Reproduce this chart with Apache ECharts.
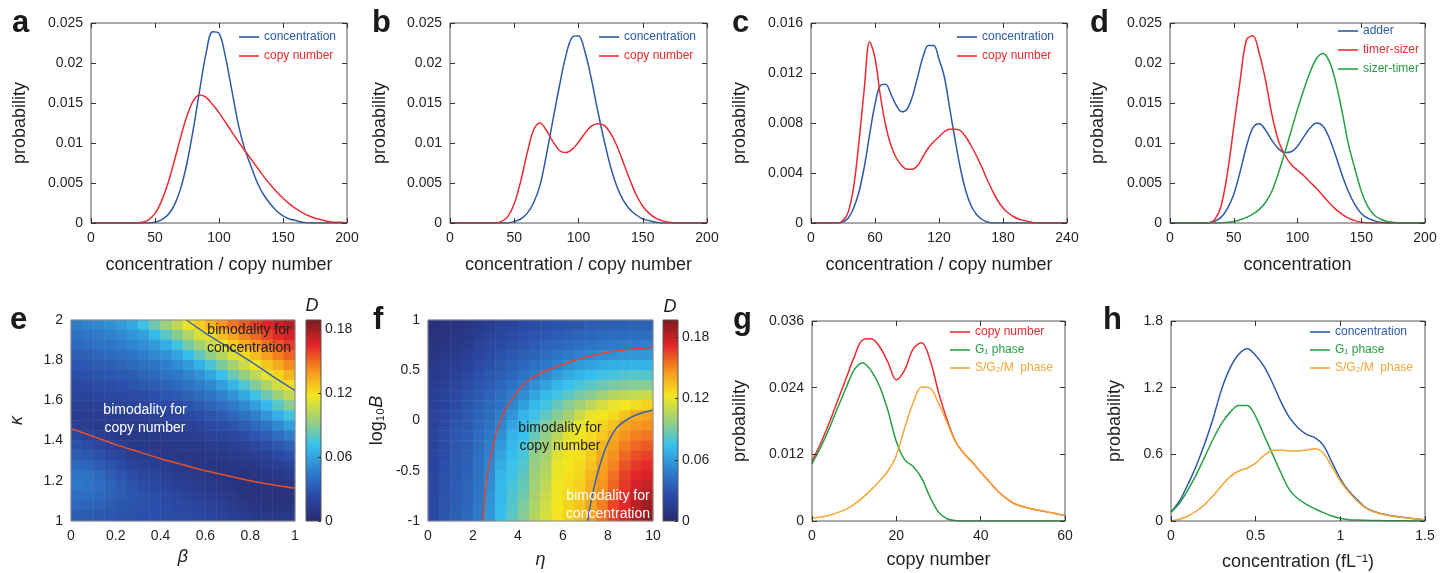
<!DOCTYPE html>
<html><head><meta charset="utf-8">
<script src="https://cdn.jsdelivr.net/npm/echarts@6/dist/echarts.min.js"></script>
<style>html,body{margin:0;padding:0;background:#fff}#c{width:1451px;height:573px}</style>
</head><body><div id="c"></div>
<script>
// ---------------- data ----------------
const x200 = [0,5,10,15,20,25,30,35,40,45,50,55,60,65,70,75,80,85,90,95,100,105,110,115,120,125,130,135,140,145,150,155,160,165,170,175,180,185,190,195,200];
const x240 = [0,5,10,15,20,25,30,35,40,45,50,55,60,65,70,75,80,85,90,95,100,105,110,115,120,125,130,135,140,145,150,155,160,165,170,175,180,185,190,195,200,205,210,215,220,225,230,235,240];
const gX = [0,2,4,6,8,10,12,14,16,18,20,22,24,26,28,30,32,34,36,38,40,42,44,46,48,50,52,54,56,58,60];
const hX = [0,0.05,0.1,0.15,0.2,0.25,0.3,0.35,0.4,0.45,0.5,0.55,0.6,0.65,0.7,0.75,0.8,0.85,0.9,0.95,1,1.05,1.1,1.15,1.2,1.25,1.3,1.35,1.4,1.45,1.5];

const aConc = [0,0,0,0,0,0,0,0,0,0,0.0001,0.0004,0.001,0.0022,0.0043,0.0075,0.0118,0.0167,0.0213,0.0239,0.0237,0.0208,0.0166,0.0124,0.0093,0.0071,0.005,0.0035,0.0024,0.0015,0.0009,0.0005,0.0003,0.0001,0,0,0,0,0,0,0];
const aCopy = [0,0,0,0,0,0,0,0,0.0001,0.0004,0.0012,0.0027,0.0049,0.0077,0.0107,0.0134,0.0153,0.016,0.0157,0.0148,0.0138,0.0126,0.0114,0.0102,0.0091,0.008,0.0069,0.0058,0.0048,0.0039,0.0031,0.0024,0.0018,0.0013,0.0009,0.0006,0.0004,0.0002,0.0001,0.0001,0];
const bConc = [0,0,0,0,0,0,0,0,0,0,0.0002,0.0005,0.0012,0.0025,0.0047,0.0085,0.0128,0.017,0.0208,0.0232,0.0234,0.0214,0.018,0.014,0.0103,0.007,0.0045,0.0028,0.0017,0.001,0.0005,0.0003,0.0001,0,0,0,0,0,0,0,0];
const bCopy = [0,0,0,0,0,0,0,0,0.0002,0.0008,0.0024,0.0052,0.0087,0.0116,0.0125,0.0116,0.0102,0.0091,0.0088,0.0092,0.0101,0.0112,0.0121,0.0124,0.0122,0.0112,0.0096,0.0075,0.0054,0.0035,0.0021,0.0012,0.0006,0.0003,0.0001,0,0,0,0,0,0];
const cConc = [0,0,0,0,0,0,0.0001,0.0004,0.0012,0.0025,0.0045,0.0071,0.0095,0.011,0.0111,0.0103,0.0094,0.0089,0.0091,0.0101,0.0117,0.0133,0.0142,0.0142,0.0131,0.0117,0.0092,0.0067,0.0044,0.0026,0.0014,0.0007,0.0003,0.0001,0,0,0,0,0,0,0,0,0,0,0,0,0,0,0];
const cCopy = [0,0,0,0,0,0,0.0002,0.0009,0.0029,0.0065,0.0108,0.0145,0.0132,0.0102,0.0078,0.0062,0.0052,0.0046,0.0043,0.0043,0.0046,0.0053,0.006,0.0065,0.0069,0.0073,0.0075,0.0075,0.0074,0.0069,0.0062,0.0054,0.0045,0.0035,0.0026,0.0018,0.0012,0.0008,0.0005,0.0003,0.0002,0.0001,0,0,0,0,0,0,0];
const dAdder = [0,0,0,0,0,0,0,0.0002,0.0007,0.0018,0.0036,0.0064,0.0096,0.0119,0.0124,0.0116,0.0103,0.0093,0.0088,0.0089,0.0096,0.0108,0.0119,0.0125,0.0121,0.0106,0.0084,0.006,0.0039,0.0023,0.0012,0.0006,0.0003,0.0001,0,0,0,0,0,0,0];
const dTimerSizer = [0,0,0,0,0,0,0,0.0004,0.0021,0.0062,0.012,0.0178,0.0229,0.0234,0.0212,0.0178,0.0135,0.0103,0.0085,0.0073,0.0066,0.0059,0.0051,0.0043,0.0034,0.0025,0.0017,0.0011,0.0006,0.0003,0.0001,0,0,0,0,0,0,0,0,0,0];
const dSizerTimer = [0,0,0,0,0,0,0,0,0,0.0001,0.0002,0.0004,0.0007,0.0011,0.0017,0.0026,0.004,0.0062,0.0088,0.0115,0.0142,0.0167,0.0189,0.0206,0.0212,0.0202,0.0176,0.0139,0.0098,0.0068,0.004,0.0021,0.001,0.0005,0.0002,0.0001,0,0,0,0,0];
const gCopy = [0.0108,0.0139,0.0175,0.0215,0.0255,0.0295,0.0326,0.0328,0.0314,0.0286,0.0254,0.0272,0.031,0.0321,0.029,0.0232,0.0183,0.0144,0.0122,0.0106,0.0088,0.0071,0.0054,0.0041,0.0031,0.0026,0.0022,0.0019,0.0016,0.0013,0.001];
const gG1 = [0.0103,0.0132,0.0165,0.0202,0.0238,0.0272,0.0285,0.0271,0.0243,0.0199,0.0143,0.011,0.0098,0.0077,0.0043,0.0016,0.0004,0.0001,0,0,0,0,0,0,0,0,0,0,0,0,0];
const gSG2M = [0.0005,0.0007,0.001,0.0015,0.0021,0.003,0.0042,0.0056,0.0072,0.009,0.0118,0.0168,0.0213,0.0241,0.0239,0.0212,0.0178,0.0143,0.0122,0.0106,0.0088,0.0071,0.0054,0.0041,0.0031,0.0026,0.0022,0.0019,0.0016,0.0013,0.001];
const hConc = [0.08,0.18,0.33,0.5,0.7,0.93,1.19,1.38,1.5,1.55,1.49,1.39,1.24,1.07,0.93,0.84,0.78,0.75,0.68,0.53,0.38,0.27,0.19,0.12,0.085,0.063,0.048,0.037,0.028,0.019,0.01];
const hG1 = [0.08,0.16,0.28,0.42,0.58,0.74,0.88,0.98,1.04,1.04,0.94,0.77,0.6,0.43,0.28,0.2,0.15,0.11,0.075,0.045,0.022,0.012,0.008,0.006,0.004,0.003,0.002,0.002,0.001,0.001,0];
const hSG2M = [0,0.015,0.045,0.09,0.15,0.23,0.32,0.4,0.45,0.475,0.52,0.59,0.635,0.64,0.63,0.63,0.64,0.65,0.61,0.49,0.36,0.26,0.18,0.115,0.081,0.06,0.046,0.035,0.027,0.018,0.01];

// heatmap e: D (x1000), one array per beta cell (0.025..0.975), values from kappa=1.975 (top) to 1.025 (bottom)
const eBetaCells = [0.025,0.075,0.125,0.175,0.225,0.275,0.325,0.375,0.425,0.475,0.525,0.575,0.625,0.675,0.725,0.775,0.825,0.875,0.925,0.975];
const eKappaCells = [1.025,1.075,1.125,1.175,1.225,1.275,1.325,1.375,1.425,1.475,1.525,1.575,1.625,1.675,1.725,1.775,1.825,1.875,1.925,1.975];
const eD = [
[45,41,37,33,29,26,22,19,16,14,16,21,27,32,38,43,44,40,36,32],
[48,43,39,34,30,27,23,19,16,14,14,18,24,30,36,41,42,39,35,31],
[50,45,41,36,32,28,24,20,17,14,12,15,20,26,32,37,39,37,34,30],
[53,48,43,38,33,29,25,21,17,14,12,13,17,22,28,33,36,35,32,29],
[57,51,46,40,35,31,26,22,18,15,13,11,14,19,24,29,32,32,30,28],
[62,55,49,43,38,32,28,23,19,16,13,11,12,15,20,25,28,29,28,27],
[73,59,53,46,40,35,30,25,20,17,13,11,11,13,17,21,25,27,27,26],
[84,68,57,50,43,37,32,26,22,18,14,11,10,12,15,19,22,25,26,26],
[94,79,64,54,47,41,34,29,23,19,15,12,10,10,13,16,20,23,25,25],
[104,90,74,60,52,44,37,31,25,20,16,13,11,9,11,14,17,21,23,24],
[116,100,86,70,57,49,41,34,28,22,17,14,11,9,10,12,15,18,21,23],
[125,111,96,81,65,54,46,38,31,25,19,15,11,9,8,10,13,16,19,22],
[133,121,106,92,76,61,51,43,35,28,22,17,13,10,8,9,11,14,17,20],
[140,129,117,101,87,71,58,48,39,31,25,19,14,10,8,7,9,12,15,18],
[148,137,126,112,97,82,67,54,45,36,28,21,16,12,9,7,8,10,12,16],
[154,145,134,122,107,93,77,62,51,41,32,25,18,13,10,7,7,7,9,13],
[160,151,141,130,118,103,88,73,58,47,37,29,21,15,11,8,6,6,8,11],
[166,158,149,138,127,114,99,84,68,55,43,33,25,18,13,9,6,6,7,10],
[172,164,155,146,135,123,109,94,79,64,51,39,30,22,15,10,7,5,7,10],
[177,169,161,152,143,132,120,104,90,74,59,46,35,26,18,13,9,6,7,11]];
const eRedLine = [[0,1.46],[0.1,1.42],[0.2,1.38],[0.3,1.345],[0.4,1.31],[0.5,1.28],[0.6,1.25],[0.7,1.225],[0.8,1.2],[0.9,1.18],[1,1.163]];
const eBlueLine = [[0.515,2],[0.6,1.935],[0.7,1.865],[0.8,1.795],[0.9,1.72],[1,1.65]];
const eDMax = 0.189;

// heatmap f: D (x1000), one array per eta cell (0.25..9.75), values from log10B=0.95 (top) to -0.95 (bottom)
const fEtaCells = [0.25,0.75,1.25,1.75,2.25,2.75,3.25,3.75,4.25,4.75,5.25,5.75,6.25,6.75,7.25,7.75,8.25,8.75,9.25,9.75];
const fLogBCells = [-0.95,-0.85,-0.75,-0.65,-0.55,-0.45,-0.35,-0.25,-0.15,-0.05,0.05,0.15,0.25,0.35,0.45,0.55,0.65,0.75,0.85,0.95];
const fD = [
[5,6,7,9,11,13,15,16,17,18,19,20,20,21,21,22,22,23,23,24],
[6,7,9,11,13,15,17,19,21,22,24,25,26,26,27,28,28,29,29,30],
[7,9,11,13,16,18,21,23,25,27,29,30,31,31,32,32,33,33,34,34],
[9,11,13,16,19,22,25,28,30,31,32,33,33,34,35,36,37,37,38,39],
[12,15,18,21,24,27,30,32,34,36,38,40,41,42,42,43,44,45,46,46],
[15,18,22,25,28,31,33,36,39,41,43,46,48,50,52,53,54,56,57,58],
[18,21,25,28,31,34,38,41,44,48,51,55,59,63,67,70,71,71,72,73],
[21,24,28,31,35,38,42,47,51,57,63,69,71,73,75,76,78,80,81,83],
[24,27,30,34,38,43,48,54,61,69,72,74,77,79,81,84,86,88,91,93],
[26,29,33,37,42,48,55,63,71,76,81,86,91,96,97,99,100,102,103,105],
[27,31,36,40,46,53,62,71,77,84,91,96,99,101,103,106,108,111,113,115],
[29,33,38,44,50,60,69,77,85,93,100,106,111,117,120,121,122,122,123,124],
[30,35,40,47,55,65,74,83,93,101,110,118,121,122,123,125,126,127,128,129],
[31,37,42,50,59,69,79,89,100,111,120,122,124,125,127,128,130,132,133,135],
[33,38,44,52,62,73,83,94,107,120,123,126,129,131,134,137,140,141,142,143],
[34,39,46,55,65,76,87,100,115,123,128,132,137,141,143,145,147,149,152,154],
[34,40,47,56,67,78,90,105,120,127,134,141,144,148,151,155,158,162,165,166],
[35,40,48,58,68,80,92,108,123,133,142,147,152,157,162,166,168,170,172,174],
[35,41,48,58,69,81,93,110,126,140,146,152,157,163,168,172,176,180,182,184],
[35,41,49,58,69,81,93,111,129,142,148,154,160,166,171,175,180,184,189,192]];
const fRedLine = [[2.46,-1],[2.5,-0.8],[2.6,-0.6],[2.75,-0.4],[3.0,-0.15],[3.3,0.05],[3.6,0.17],[4.3,0.37],[5,0.47],[6,0.56],[7,0.63],[8,0.68],[9,0.71],[10,0.73]];
const fBlueLine = [[7.1,-1],[7.25,-0.8],[7.45,-0.6],[7.7,-0.4],[8.0,-0.22],[8.4,-0.07],[9.0,0.03],[9.5,0.075],[10,0.105]];
const fDMax = 0.197;

// ---------------- styles ----------------
const FONT = '"Liberation Sans", Arial, Helvetica, sans-serif';
const TXT = '#231f20', AX = '#555555';
const BLUE = '#2a5aa8', RED = '#ec2a2f', GREEN = '#279f45', ORANGE = '#f4a636';
const JET = ['#282b70','#2b4aa6','#2f80cc','#36c1ef','#9dcf7a','#f4e61e','#f6921e','#e3242a','#7b1c1e'];

const grids = [], xAxes = [], yAxes = [], series = [], legends = [], visualMaps = [], graphics = [];

function addGrid(r, border) {
  grids.push({left:r[0], top:r[1], width:r[2], height:r[3], show:!!border, borderColor:border||'transparent',
    borderWidth:1, backgroundColor:'transparent', z:10, containLabel:false, outerBoundsMode:'none'});
  return grids.length - 1;
}
function valAxis(gi, o) {
  return {type:'value', gridIndex:gi, min:o.min, max:o.max, interval:o.interval, position:o.position,
    name:o.name||'', nameLocation:'middle', nameGap:o.nameGap||0,
    nameTextStyle:{fontFamily:FONT, fontSize:18, color:TXT, fontStyle:o.italic?'italic':'normal', rich:o.rich||{}},
    axisLine:{show:false, onZero:false},
    axisTick:{show:o.ticks!==false, inside:true, length:o.tickLen||5, lineStyle:{color:'#333', width:1}},
    axisLabel:{show:o.labels!==false, fontFamily:FONT, fontSize:14, color:TXT, margin:o.margin||8,
      showMaxLabel:o.showMax===false?false:null},
    splitLine:{show:false}, z:12};
}
function linePanel(rect, xo, yo, lines) {
  const gi = addGrid(rect, AX);
  const xi = xAxes.length;
  xAxes.push(valAxis(gi, Object.assign({position:'bottom'}, xo)));
  xAxes.push(valAxis(gi, {min:xo.min, max:xo.max, interval:xo.interval, position:'top', labels:false}));
  const yi = yAxes.length;
  yAxes.push(valAxis(gi, Object.assign({position:'left'}, yo)));
  yAxes.push(valAxis(gi, {min:yo.min, max:yo.max, interval:yo.interval, position:'right', labels:false}));
  lines.forEach(([name, color, xs, ys]) => series.push({type:'line', name, xAxisIndex:xi, yAxisIndex:yi,
    data:xs.map((x, i) => [x, ys[i]]), symbol:'none', smooth:0.35, lineStyle:{color, width:1.5},
    itemStyle:{color}, z:3, emphasis:{disabled:true}, silent:true}));
}
function heatPanel(rect, cols, xCats, yCats, vmax, xo, yo, contours, cbRect) {
  const gh = addGrid(rect, null);
  const hx = xAxes.length; xAxes.push({type:'category', gridIndex:gh, data:xCats, show:false});
  const hy = yAxes.length; yAxes.push({type:'category', gridIndex:gh, data:yCats, show:false});
  const data = [];
  cols.forEach((col, i) => col.forEach((v, k) => data.push([i, col.length - 1 - k, v / 1000])));
  const si = series.length;
  series.push({type:'heatmap', xAxisIndex:hx, yAxisIndex:hy, data, z:1, emphasis:{disabled:true}, silent:true, progressive:0});
  visualMaps.push({type:'continuous', show:false, seriesIndex:si, dimension:2, min:0, max:vmax, inRange:{color:JET}});
  const go = addGrid(rect, '#8c8c8c');
  const xi = xAxes.length; xAxes.push(valAxis(go, Object.assign({position:'bottom', ticks:false}, xo)));
  const yi = yAxes.length; yAxes.push(valAxis(go, Object.assign({position:'left', ticks:false}, yo)));
  contours.forEach(([color, pts]) => series.push({type:'line', xAxisIndex:xi, yAxisIndex:yi, data:pts,
    symbol:'none', smooth:0.2, lineStyle:{color, width:1.5}, z:3, silent:true, emphasis:{disabled:true}}));
  const gc = addGrid(cbRect, AX);
  const cx = xAxes.length; xAxes.push({type:'category', gridIndex:gc, data:['D'], show:false});
  const cy = yAxes.length; yAxes.push(valAxis(gc, {min:0, max:vmax, interval:0.06, position:'right', margin:4, tickLen:3, showMax:false}));
  series.push({type:'bar', xAxisIndex:cx, yAxisIndex:cy, data:[vmax], barWidth:'100%', z:1, silent:true,
    emphasis:{disabled:true},
    itemStyle:{color:{type:'linear', x:0, y:1, x2:0, y2:0,
      colorStops:JET.map((c, i) => ({offset:i / (JET.length - 1), color:c}))}}});
}
function addLegend(left, top, gap, items) {
  legends.push({left, top, orient:'vertical', icon:'rect', itemWidth:20, itemHeight:1.6, itemGap:gap, padding:0,
    selectedMode:false, textStyle:{fontFamily:FONT, fontSize:12},
    data:items.map(([n, c]) => ({name:n, textStyle:{color:c}}))});
}
function addText(x, y, text, font, fill, align, lh) {
  graphics.push({type:'text', x, y, z:100, silent:true,
    style:{text, font, fill, align:align||'left', verticalAlign:'middle', lineHeight:lh||undefined}});
}

// ---------------- panels ----------------
const yProb = (max, interval, gap) => ({min:0, max, interval, name:'probability', nameGap:gap});
linePanel([91,23,256,200], {min:0,max:200,interval:50,name:'concentration / copy number',nameGap:33}, yProb(0.025,0.005,62),
  [['concentration',BLUE,x200,aConc],['copy number',RED,x200,aCopy]]);
linePanel([450,23,257,200], {min:0,max:200,interval:50,name:'concentration / copy number',nameGap:33}, yProb(0.025,0.005,61),
  [['concentration',BLUE,x200,bConc],['copy number',RED,x200,bCopy]]);
linePanel([811,23,256,200], {min:0,max:240,interval:60,name:'concentration / copy number',nameGap:33}, yProb(0.016,0.004,62),
  [['concentration',BLUE,x240,cConc],['copy number',RED,x240,cCopy]]);
linePanel([1170,23,255,200], {min:0,max:200,interval:50,name:'concentration',nameGap:33}, yProb(0.025,0.005,63),
  [['adder',BLUE,x200,dAdder],['timer-sizer',RED,x200,dTimerSizer],['sizer-timer',GREEN,x200,dSizerTimer]]);

heatPanel([71,320,224,201], eD, eBetaCells, eKappaCells, eDMax,
  {min:0,max:1,interval:0.2,name:'β',italic:true,nameGap:27},
  {min:1,max:2,interval:0.2,name:'κ',italic:true,nameGap:45},
  [['#e8502a', eRedLine], ['#3a62b2', eBlueLine]], [306,320,15,201]);
heatPanel([428,320,225,201], fD, fEtaCells, fLogBCells, fDMax,
  {min:0,max:10,interval:2,name:'η',italic:true,nameGap:30},
  {min:-1,max:1,interval:0.5,name:'{n|log₁₀}{i|B}',nameGap:42,
    rich:{n:{fontFamily:FONT,fontSize:18,color:TXT}, i:{fontFamily:FONT,fontSize:18,color:TXT,fontStyle:'italic'}}},
  [['#e4412f', fRedLine], ['#3a62b2', fBlueLine]], [663,320,15,201]);

linePanel([812,321,253,200], {min:0,max:60,interval:20,name:'copy number',nameGap:30}, yProb(0.036,0.012,63),
  [['copy number',RED,gX,gCopy],['G₁ phase',GREEN,gX,gG1],['S/G₂/M  phase',ORANGE,gX,gSG2M]]);
linePanel([1171,321,254,200], {min:0,max:1.5,interval:0.5,name:'concentration (fL⁻¹)',nameGap:32}, yProb(1.8,0.6,47),
  [['concentration',BLUE,hX,hConc],['G₁ phase',GREEN,hX,hG1],['S/G₂/M  phase',ORANGE,hX,hSG2M]]);

addLegend(239, 31, 7, [['concentration',BLUE],['copy number',RED]]);
addLegend(599, 31, 7, [['concentration',BLUE],['copy number',RED]]);
addLegend(957, 31, 7, [['concentration',BLUE],['copy number',RED]]);
addLegend(1338, 25, 7, [['adder',BLUE],['timer-sizer',RED],['sizer-timer',GREEN]]);
addLegend(950, 326, 6, [['copy number',RED],['G₁ phase',GREEN],['S/G₂/M  phase',ORANGE]]);
addLegend(1310, 326, 6, [['concentration',BLUE],['G₁ phase',GREEN],['S/G₂/M  phase',ORANGE]]);

const LF = 'bold 31px ' + FONT;
[['a',12,23],['b',372,23],['c',732,23],['d',1090,23],['e',10,320],['f',373,320],['g',733,320],['h',1103,320]]
  .forEach(([t, x, y]) => addText(x, y, t, LF, '#1a1a1a'));
addText(312, 306, 'D', 'italic 18px ' + FONT, TXT, 'center');
addText(670, 307, 'D', 'italic 18px ' + FONT, TXT, 'center');
const AF = '14px ' + FONT;
addText(249, 339, 'bimodality for\nconcentration', AF, '#222', 'center', 18);
addText(145, 419, 'bimodality for\ncopy number', AF, '#ffffff', 'center', 18);
addText(560, 437, 'bimodality for\ncopy number', AF, '#1f1f1f', 'center', 18);
addText(608, 505, 'bimodality for\nconcentration', AF, '#ffffff', 'center', 18);

const chart = echarts.init(document.getElementById('c'), null, {renderer:'canvas'});
chart.setOption({animation:false, backgroundColor:'#ffffff', textStyle:{fontFamily:FONT},
  grid:grids, xAxis:xAxes, yAxis:yAxes, series, legend:legends, visualMap:visualMaps, graphic:graphics});
</script></body></html>
